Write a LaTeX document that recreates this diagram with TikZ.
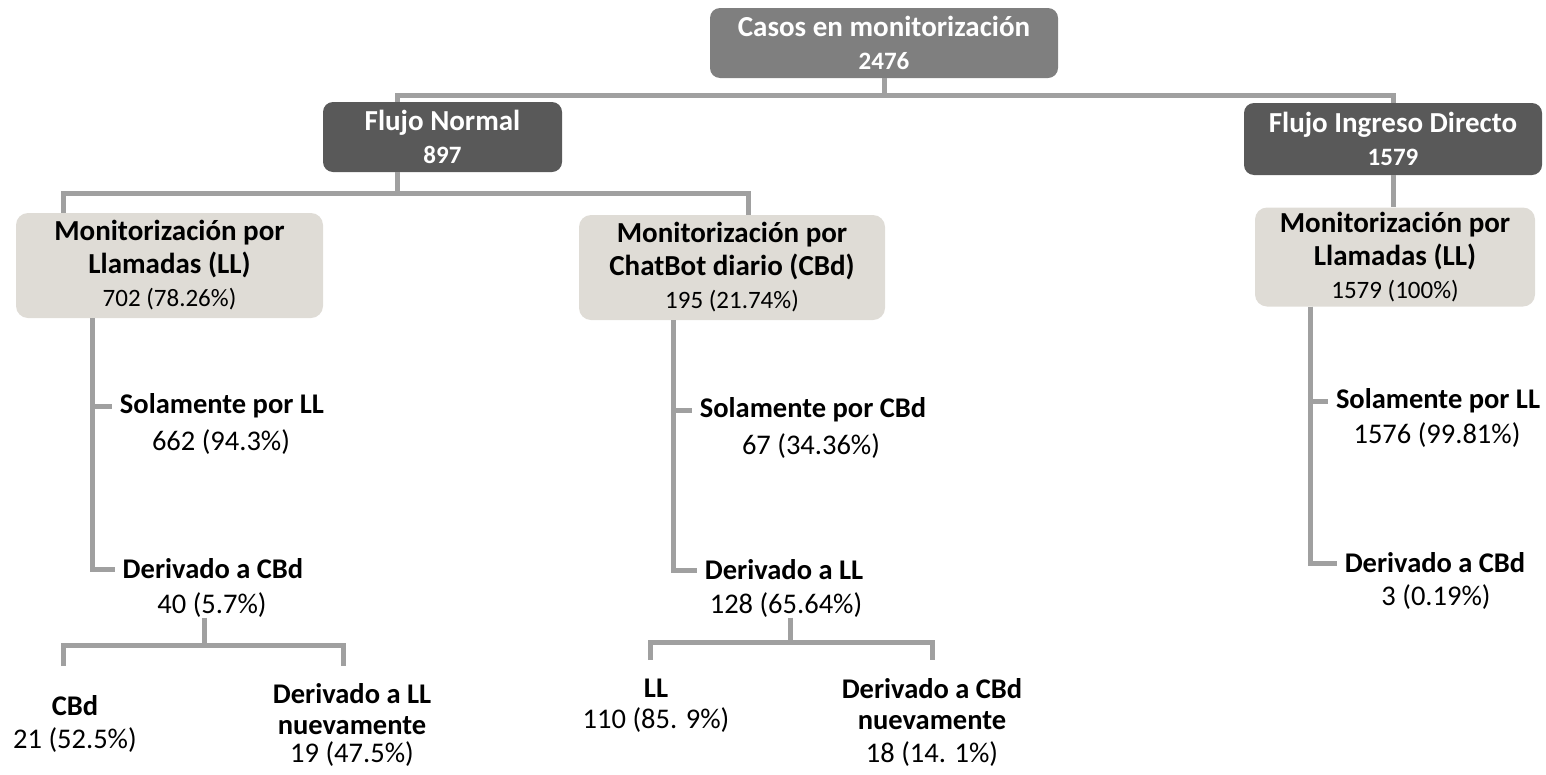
\documentclass[tikz,border=0pt]{standalone}
\usepackage{fontspec}
\setmainfont{Carlito}
\usepackage{tikz}
\usepackage{xcolor}

\definecolor{rootgray}{HTML}{7F7F7F}
\definecolor{flowgray}{HTML}{595959}
\definecolor{monitbg}{HTML}{DFDCD6}
\definecolor{linkgray}{HTML}{A0A0A0}

\newcommand{\boxhead}{\bfseries\fontsize{29}{33}\selectfont}
\newcommand{\boxnum}{\fontsize{25}{32}\selectfont}
\newcommand{\leafheadfont}{\bfseries\fontsize{28.5}{31}\selectfont}
\newcommand{\leafnumfont}{\fontsize{28.5}{34}\selectfont}

\tikzset{
  rootbox/.style={fill=rootgray, text=white, rounded corners=10pt, inner sep=0pt, align=center, font=\boxhead},
  flowbox/.style={fill=flowgray, text=white, rounded corners=10pt, inner sep=0pt, align=center, font=\boxhead},
  monitbox/.style={fill=monitbg, text=black, rounded corners=12pt, inner sep=0pt, align=center, font=\boxhead},
  leafhead/.style={inner xsep=8pt, inner ysep=0pt, align=center, font=\leafheadfont},
  leafnum/.style={inner xsep=8pt, inner ysep=0pt, align=center, font=\leafnumfont},
  link/.style={draw=linkgray, line width=5pt}
}

\begin{document}
\begin{tikzpicture}[x=1pt, y=-1pt]
  \useasboundingbox (0,0) rectangle (1546,774);

  \node[rootbox, minimum width=348pt, minimum height=70pt] (root) at (884,43) {Casos en monitorización\\{\boxnum 2476}};
  \node[flowbox, minimum width=239pt, minimum height=70pt] (fn) at (442.5,137) {Flujo Normal\\{\boxnum 897}};
  \node[flowbox, minimum width=298pt, minimum height=72pt] (fid) at (1393,139) {Flujo Ingreso Directo\\{\boxnum 1579}};

  \node[monitbox, minimum width=307pt, minimum height=105pt] (mll) at (169.5,265.5) {Monitorización por\\Llamadas (LL)\\{\mdseries\boxnum 702 (78.26\%)}};
  \node[monitbox, minimum width=306pt, minimum height=105pt] (mcb) at (732,267.5) {Monitorización por\\ChatBot diario (CBd)\\{\mdseries\boxnum 195 (21.74\%)}};
  \node[monitbox, minimum width=280pt, minimum height=99pt] (mdi) at (1395,257) {Monitorización por\\Llamadas (LL)\\{\mdseries\boxnum 1579 (100\%)}};

  \node[leafhead] (sll) at (222,406) {Solamente por LL};
  \node[leafnum] (sllN) at (221,442) {662 (94.3\%)};
  \node[leafhead] (dcb) at (213,569) {Derivado a CBd};
  \node[leafnum] (dcbN) at (212,605) {40 (5.7\%)};
  \node[leafhead] (cbd) at (75,706) {CBd};
  \node[leafnum] (cbdN) at (75,740) {21 (52.5\%)};
  \node[leafhead] (dll) at (352,709) {Derivado a LL\\nuevamente};
  \node[leafnum] (dllN) at (352,754) {19 (47.5\%)};

  \node[leafhead] (scb) at (813,410) {Solamente por CBd};
  \node[leafnum] (scbN) at (811,446) {67 (34.36\%)};
  \node[leafhead] (dlm) at (784,570) {Derivado a LL};
  \node[leafnum] (dlmN) at (786,605) {128 (65.64\%)};
  \node[leafhead] (llm) at (656,688) {LL};
  \node[leafnum] (llmN) at (656,720) {110 (85. 9\%)};
  \node[leafhead] (dcm) at (932,704) {Derivado a CBd\\nuevamente};
  \node[leafnum] (dcmN) at (932,754) {18 (14. 1\%)};

  \node[leafhead] (srl) at (1438,401) {Solamente por LL};
  \node[leafnum] (srlN) at (1437,435) {1576 (99.81\%)};
  \node[leafhead] (drc) at (1435,563) {Derivado a CBd};
  \node[leafnum] (drcN) at (1436,597) {3 (0.19\%)};

  \coordinate (rootbar) at (884,95);
  \coordinate (fnbar) at (397,193);
  \coordinate (lsplit) at (204,645);
  \coordinate (cbdtop) at (63,666);
  \coordinate (dlltop) at (343,666);
  \coordinate (msplit) at (790,642);
  \coordinate (llmtop) at (650,660);
  \coordinate (dcmtop) at (932,660);

  \draw[link] (root.south) -- (rootbar);
  \draw[link] ([xshift=-45.5pt]fn.north) |- (rootbar) -| (fid.north);
  \draw[link] ([xshift=-45.5pt]fn.south) -- (fnbar);
  \draw[link] ([xshift=-106.5pt]mll.north) |- (fnbar) -| ([xshift=16pt]mcb.north);
  \draw[link] (fid.south) -- (fid.south |- mdi.north);

  \draw[link] ([xshift=-77.5pt]mll.south) |- (sll.west);
  \draw[link] ([xshift=-77.5pt]mll.south) |- (dcb.west);
  \draw[link] ([xshift=-59pt]mcb.south) |- (scb.west);
  \draw[link] ([xshift=-59pt]mcb.south) |- (dlm.west);
  \draw[link] ([xshift=-85pt]mdi.south) |- (srl.west);
  \draw[link] ([xshift=-85pt]mdi.south) |- (drc.west);

  \draw[link] (dcbN.south -| lsplit) -- (lsplit);
  \draw[link] (cbdtop) |- (lsplit) -| (dlltop);
  \draw[link] (dlmN.south -| msplit) -- (msplit);
  \draw[link] (llmtop) |- (msplit) -| (dcmtop);
\end{tikzpicture}
\end{document}
